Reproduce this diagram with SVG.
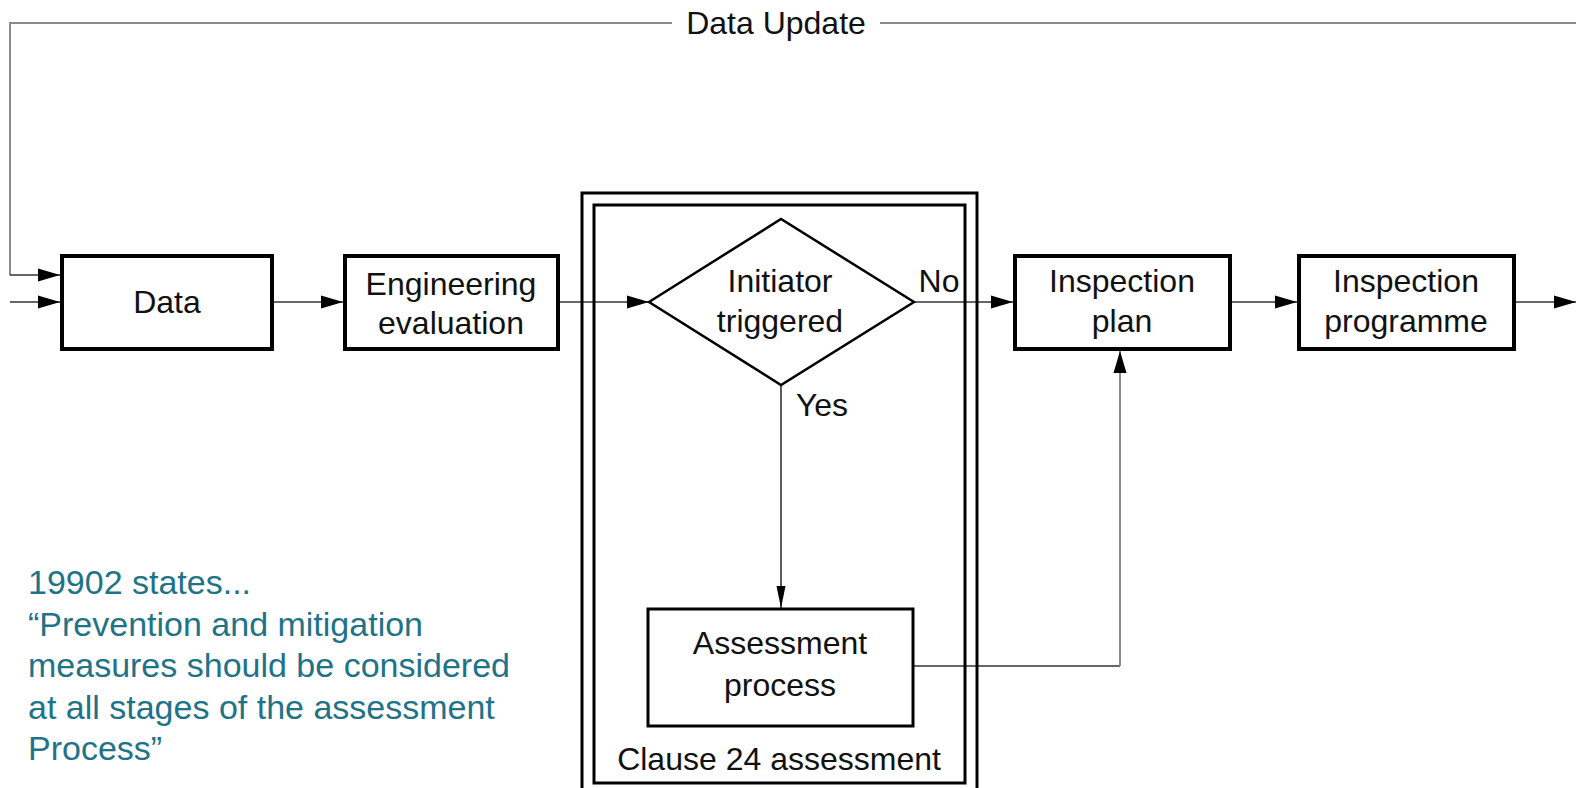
<svg xmlns="http://www.w3.org/2000/svg" width="1576" height="788" viewBox="0 0 1576 788">
<style>
.box{fill:#fff;stroke:#000;stroke-width:4}
.thin{fill:none;stroke:#000;stroke-width:3}
.lbl{font-family:"Liberation Sans",Arial,sans-serif;font-size:32px;fill:#111;text-anchor:middle}
.side{font-family:"Liberation Sans",Arial,sans-serif;font-size:34px;fill:#1f7389}
.conn{fill:none;stroke:#333;stroke-width:1.6}
.gray{fill:none;stroke:#8a8a8a;stroke-width:2}
</style>
<defs>
<marker id="ah" markerUnits="userSpaceOnUse" markerWidth="24" markerHeight="14" refX="22" refY="7" orient="auto">
<path d="M0,0.5 L22,7 L0,13.5 z" fill="#000"/>
</marker>
<marker id="ahv" markerUnits="userSpaceOnUse" markerWidth="24" markerHeight="12" refX="22" refY="6" orient="auto">
<path d="M0,1.5 L22,6 L0,10.5 z" fill="#000"/>
</marker>
</defs>
<rect width="1576" height="788" fill="#fff"/>

<g id="connectors">
<polyline class="gray" points="672,23 10,23 10,275"/>
<line class="gray" x1="880" y1="23" x2="1576" y2="23"/>
<line class="conn" x1="10" y1="275" x2="60" y2="275" marker-end="url(#ah)"/>
<line class="conn" x1="10" y1="302" x2="60" y2="302" marker-end="url(#ah)"/>
<line class="conn" x1="274" y1="302" x2="343" y2="302" marker-end="url(#ah)"/>
<line class="conn" x1="560" y1="302" x2="649" y2="302" marker-end="url(#ah)"/>
<line class="conn" x1="914" y1="302" x2="1013" y2="302" marker-end="url(#ah)"/>
<line class="conn" x1="781" y1="385" x2="781" y2="608" marker-end="url(#ahv)"/>
<line class="conn" x1="914" y1="666" x2="1120" y2="666" stroke="#000"/>
<line class="gray" x1="1120" y1="666" x2="1120" y2="351" marker-end="url(#ah)"/>
<line class="conn" x1="1232" y1="302" x2="1297" y2="302" marker-end="url(#ah)"/>
<line class="conn" x1="1516" y1="302" x2="1576" y2="302" marker-end="url(#ah)"/>
<text class="lbl" x="776" y="34">Data Update</text>
</g>

<g id="clause24">
<rect class="thin" x="582" y="193" width="395" height="597"/>
<rect class="thin" x="594" y="205" width="371" height="578"/>
<text class="lbl" x="779" y="770">Clause 24 assessment</text>
</g>

<g id="data">
<rect class="box" x="62" y="256" width="210" height="93"/>
<text class="lbl" x="167" y="313">Data</text>
</g>

<g id="engineering">
<rect class="box" x="345" y="256" width="213" height="93"/>
<text class="lbl" x="451" y="295">Engineering</text>
<text class="lbl" x="451" y="334">evaluation</text>
</g>

<g id="initiator">
<polygon points="649,302 781,219 914,302 781,385" fill="#fff" stroke="#000" stroke-width="2.5"/>
<text class="lbl" x="780" y="292">Initiator</text>
<text class="lbl" x="780" y="332">triggered</text>
<text class="lbl" x="939" y="292">No</text>
<text class="lbl" x="822" y="416">Yes</text>
</g>

<g id="assessment">
<rect class="thin" x="648" y="609" width="265" height="117" fill="#fff"/>
<text class="lbl" x="780" y="654">Assessment</text>
<text class="lbl" x="780" y="696">process</text>
</g>

<g id="inspection-plan">
<rect class="box" x="1015" y="256" width="215" height="93"/>
<text class="lbl" x="1122" y="292">Inspection</text>
<text class="lbl" x="1122" y="332">plan</text>
</g>

<g id="inspection-programme">
<rect class="box" x="1299" y="256" width="215" height="93"/>
<text class="lbl" x="1406" y="292">Inspection</text>
<text class="lbl" x="1406" y="332">programme</text>
</g>

<g id="note">
<text class="side" x="28" y="594">19902 states...</text>
<text class="side" x="28" y="636">“Prevention and mitigation</text>
<text class="side" x="28" y="677">measures should be considered</text>
<text class="side" x="28" y="719">at all stages of the assessment</text>
<text class="side" x="28" y="760">Process”</text>
</g>
</svg>
